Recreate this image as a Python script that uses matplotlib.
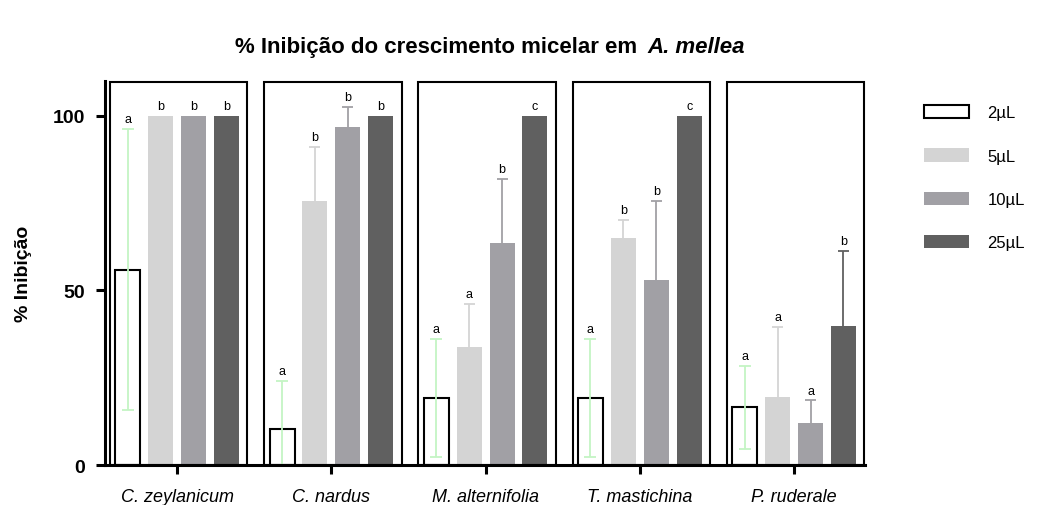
import numpy as np
import matplotlib.pyplot as plt
from matplotlib.patches import Rectangle, Patch

plt.rcParams['font.family'] = ['Liberation Sans', 'DejaVu Sans']

species = ['C. zeylanicum', 'C. nardus', 'M. alternifolia', 'T. mastichina', 'P. ruderale']
doses = ['2µL', '5µL', '10µL', '25µL']

# mean inhibition (%) and standard deviation for each dose
mean_2 = [56.0, 10.3, 19.2, 19.2, 16.5]
sd_2 = [40.3, 13.8, 16.9, 17.0, 12.0]
mean_5 = [100.0, 75.7, 33.7, 65.0, 19.4]
sd_5 = [0.0, 15.4, 12.5, 5.3, 20.2]
mean_10 = [100.0, 96.7, 63.5, 53.1, 12.0]
sd_10 = [0.0, 5.9, 18.5, 22.5, 6.5]
mean_25 = [100.0, 100.0, 100.0, 100.0, 39.7]
sd_25 = [0.0, 0.0, 0.0, 0.0, 21.7]

# significance letters
letters_2 = ['a', 'a', 'a', 'a', 'a']
letters_5 = ['b', 'b', 'a', 'b', 'a']
letters_10 = ['b', 'b', 'b', 'b', 'a']
letters_25 = ['b', 'b', 'c', 'c', 'b']

fill_colors = ['white', '#d4d4d4', '#a1a0a5', '#606060']
err_colors = ['#c4f4c4', '#d4d4d4', '#a1a0a5', '#606060']

means = [mean_2, mean_5, mean_10, mean_25]
sds = [sd_2, sd_5, sd_10, sd_25]
letters = [letters_2, letters_5, letters_10, letters_25]

fig = plt.figure(figsize=(10.41, 5.06), dpi=100)
ax = fig.add_axes([0.1009, 0.079, 0.730, 0.7595])

x = np.arange(len(species))
offsets = [-0.32, -0.107, 0.107, 0.32]
width = 0.162
cap = 0.036

for i in range(4):
    m = np.array(means[i])
    s = np.array(sds[i])
    xs = x + offsets[i]
    if i == 0:
        ax.bar(xs, m, width, facecolor='white', edgecolor='black', linewidth=1.5, zorder=2)
        ax.errorbar(xs, m, yerr=s, fmt='none', ecolor=err_colors[i],
                    elinewidth=1.3, capsize=4, capthick=1.3, zorder=3)
    else:
        ax.bar(xs, m, width, color=fill_colors[i], zorder=2)
        # one-sided (upper) error bars
        keep = s > 0
        ax.vlines(xs[keep], m[keep], m[keep] + s[keep], color=err_colors[i], linewidth=1.3, zorder=1)
        ax.hlines(m[keep] + s[keep], xs[keep] - cap, xs[keep] + cap, color=err_colors[i],
                  linewidth=1.3, zorder=1)
    for xi, top, lab in zip(xs, m + s, letters[i]):
        ax.annotate(lab, (xi, top), xytext=(0, 7), textcoords='offset points',
                    ha='center', va='center', fontsize=9)

# frame around each species group
for xi in x:
    ax.add_patch(Rectangle((xi - 0.436, 0), 0.891, 109.6, fill=False,
                           edgecolor='black', linewidth=1.5, zorder=4, clip_on=False))

ax.set_xlim(-0.468, 4.46)
ax.set_ylim(0, 110.1)
ax.set_yticks([0, 50, 100])
ax.set_xticks(x)
ax.set_xticklabels(species, fontstyle='italic', fontsize=13)
for lab in ax.get_yticklabels():
    lab.set_fontweight('bold')
    lab.set_fontsize(14)
ax.tick_params(axis='both', length=6.5, width=2.2, direction='out')
ax.tick_params(axis='y', pad=8)
ax.tick_params(axis='x', pad=10)

for side in ['top', 'right']:
    ax.spines[side].set_visible(False)
for side in ['left', 'bottom']:
    ax.spines[side].set_linewidth(2.2)

ax.set_ylabel('% Inibição', fontsize=14, fontweight='bold', labelpad=15)

handles = [Patch(facecolor=fill_colors[0], edgecolor='black', linewidth=1.5)]
handles += [Patch(facecolor=c) for c in fill_colors[1:]]
fig.legend(handles, doses, loc='upper left', bbox_to_anchor=(924 / 1041, 1 - 106 / 506),
           frameon=False, fontsize=12, handlelength=2.7, handleheight=0.84,
           labelspacing=1.68, handletextpad=1.1, borderpad=0, borderaxespad=0)

# title with the species name in italics
renderer = fig.canvas.get_renderer()
t1 = fig.text(0, 0.907, '% Inibição do crescimento micelar em ', fontsize=16,
              fontweight='bold', va='center')
t2 = fig.text(0, 0.907, 'A. mellea', fontsize=16, fontweight='bold',
              fontstyle='italic', va='center')
w1 = t1.get_window_extent(renderer).width
w2 = t2.get_window_extent(renderer).width
x0 = 488 - (w1 + w2) / 2
t1.set_x(x0 / 1041)
t2.set_x((x0 + w1 + 4) / 1041)

fig.savefig('out.png', dpi=100)
